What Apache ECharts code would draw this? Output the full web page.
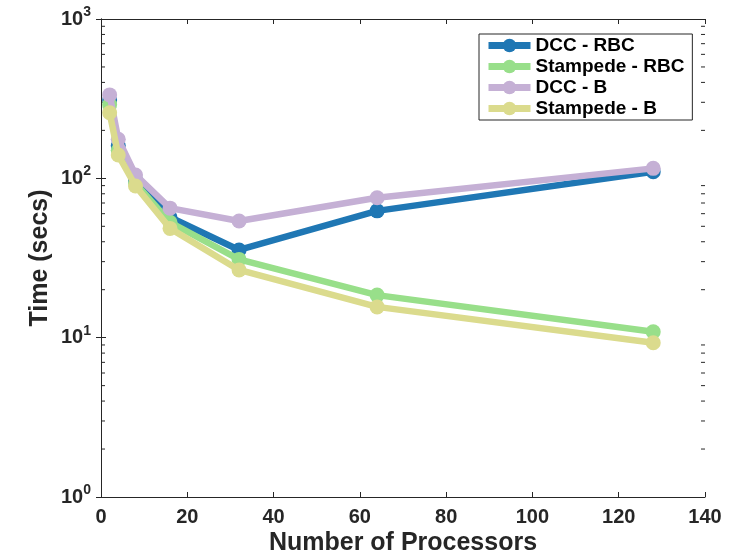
<!DOCTYPE html>
<html><head><meta charset="utf-8">
<script src="https://cdn.jsdelivr.net/npm/echarts@6/dist/echarts.min.js"></script>
<style>html,body{margin:0;padding:0;background:#fff}#c{width:741px;height:554px}</style>
</head><body><div id="c"></div>
<script>
const processors = [2, 4, 8, 16, 32, 64, 128];
const dccRBC = [310, 160, 98, 57, 35.5, 62.5, 110];
const stampedeRBC = [290, 150, 93, 53, 31, 18.5, 10.9];
const dccB = [334, 176, 105, 65, 54, 75.5, 115.5];
const stampedeB = [258, 140, 89.5, 48.5, 26.6, 15.6, 9.3];
const seriesNames = ['DCC - RBC', 'Stampede - RBC', 'DCC - B', 'Stampede - B'];
const seriesColors = ['#1f77b4', '#98df8a', '#c5b0d5', '#dbdb8d'];
const seriesValues = [dccRBC, stampedeRBC, dccB, stampedeB];
const xTicks = [0, 20, 40, 60, 80, 100, 120, 140];

const FONT = '"Liberation Sans", Arial, Helvetica, sans-serif';
const AX = '#262626';

const minorVals = [];
for (let k = 0; k < 3; k++) for (let m = 2; m <= 9; m++) minorVals.push([0, m * Math.pow(10, k)]);

const lineSeries = seriesNames.map((n, i) => ({
  name: n, type: 'line',
  data: processors.map((p, j) => [p, seriesValues[i][j]]),
  symbol: 'circle', symbolSize: 15,
  lineStyle: { width: 6.5, color: seriesColors[i] },
  itemStyle: { color: seriesColors[i] },
  color: seriesColors[i],
  xAxisIndex: 0, yAxisIndex: 0, animation: false, z: 3 + i
}));

const option = {
  animation: false,
  backgroundColor: '#fff',
  grid: { left: 101, right: 36, top: 19, bottom: 57, containLabel: false, outerBoundsMode: 'none' },
  legend: {
    data: seriesNames.map(n => ({ name: n })),
    orient: 'vertical', left: 479, top: 34,
    padding: [2, 8, 2, 6], itemGap: 2, itemWidth: 42, itemHeight: 17,
    lineStyle: { width: 7 },
    borderColor: AX, borderWidth: 1, backgroundColor: '#fff',
    textStyle: { fontFamily: FONT, fontWeight: 'bold', fontSize: 19, color: '#000' },
    selectedMode: false, z: 10
  },
  xAxis: [{
    type: 'value', min: 0, max: 140, interval: 20, position: 'bottom',
    name: 'Number of Processors', nameLocation: 'middle', nameGap: 34, nameMoveOverlap: false,
    nameTextStyle: { fontFamily: FONT, fontWeight: 'bold', fontSize: 25, color: '#262626' },
    axisLine: { show: true, lineStyle: { color: AX, width: 1 } },
    axisTick: { show: true, inside: true, length: 5, lineStyle: { color: AX } },
    axisLabel: { fontFamily: FONT, fontWeight: 'bold', fontSize: 20, color: '#262626', margin: 10 },
    splitLine: { show: false }
  }, {
    type: 'value', min: 0, max: 140, interval: 20, position: 'top',
    axisLine: { show: true, lineStyle: { color: AX, width: 1 } },
    axisTick: { show: true, inside: true, length: 5, lineStyle: { color: AX } },
    axisLabel: { show: false }, splitLine: { show: false }
  }],
  yAxis: [{
    type: 'log', logBase: 10, min: 1, max: 1000, position: 'left',
    name: 'Time (secs)', nameLocation: 'middle', nameGap: 48, nameRotate: 90, nameMoveOverlap: false,
    nameTextStyle: { fontFamily: FONT, fontWeight: 'bold', fontSize: 25, color: '#262626' },
    axisLine: { show: true, lineStyle: { color: AX, width: 1 } },
    axisTick: { show: true, inside: true, length: 5, lineStyle: { color: AX } },
    axisLabel: {
      margin: 10,
      formatter: v => '{b|10}{s|' + Math.round(Math.log10(v)) + '}',
      rich: {
        b: { fontFamily: FONT, fontWeight: 'bold', fontSize: 20, color: '#262626' },
        s: { fontFamily: FONT, fontWeight: 'bold', fontSize: 14, color: '#262626', padding: [0, 0, 14, 0] }
      }
    },
    splitLine: { show: false }
  }, {
    type: 'log', logBase: 10, min: 1, max: 1000, position: 'right',
    axisLine: { show: true, lineStyle: { color: AX, width: 1 } },
    axisTick: { show: true, inside: true, length: 5, lineStyle: { color: AX } },
    axisLabel: { show: false }, splitLine: { show: false }
  }],
  series: [{
    name: 'minorTicks', type: 'custom', xAxisIndex: 0, yAxisIndex: 0,
    data: minorVals, silent: true, z: 1,
    encode: { x: 0, y: 1 },
    renderItem: (params, api) => {
      const v = api.value(1);
      const pL = api.coord([0, v]);
      const pR = api.coord([140, v]);
      return { type: 'group', children: [
        { type: 'line', shape: { x1: pL[0], y1: pL[1], x2: pL[0] + 4, y2: pL[1] }, style: { stroke: AX, lineWidth: 1 } },
        { type: 'line', shape: { x1: pR[0], y1: pR[1], x2: pR[0] - 4, y2: pR[1] }, style: { stroke: AX, lineWidth: 1 } }
      ] };
    }
  }].concat(lineSeries)
};
const chart = echarts.init(document.getElementById('c'), null, { renderer: 'canvas' });
chart.setOption(option);
</script></body></html>
